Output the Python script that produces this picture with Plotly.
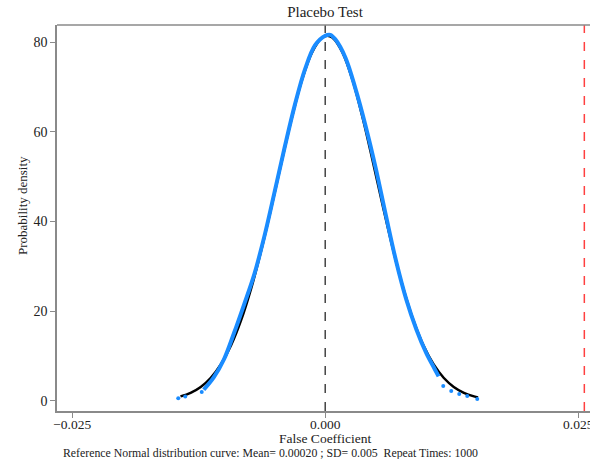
import plotly.graph_objects as go

# Reference normal curve
norm_x = [-0.0143, -0.0133, -0.0123, -0.0113, -0.0103, -0.0093, -0.0083, -0.0073,
          -0.0063, -0.0053, -0.0043, -0.0033, -0.0023, -0.0013, -0.0003, 0.0002,
          0.0007, 0.0017, 0.0027, 0.0037, 0.0047, 0.0057, 0.0067, 0.0077, 0.0087,
          0.0097, 0.0107, 0.0117, 0.0127, 0.0137, 0.0147, 0.0151]
norm_y = [1.02, 1.83, 3.14, 5.18, 8.20, 12.42, 18.07, 25.22, 33.77, 43.37, 53.40,
          63.08, 71.49, 77.69, 81.00, 81.42, 81.00, 77.69, 71.49, 63.08, 53.40,
          43.37, 33.77, 25.22, 18.07, 12.42, 8.20, 5.18, 3.14, 1.83, 1.02, 0.80]

# Kernel density of placebo coefficients
kd_x = [-0.0120, -0.0110, -0.0100, -0.0090, -0.0080, -0.0070, -0.0060, -0.0050,
        -0.0040, -0.0030, -0.0020, -0.0010, 0.0000, 0.0005, 0.0010, 0.0020,
        0.0030, 0.0040, 0.0050, 0.0060, 0.0070, 0.0080, 0.0090, 0.0100, 0.0108,
        0.0112]
kd_y = [2.5, 5.3, 9.3, 15.2, 21.6, 28.3, 36.8, 46.6, 56.6, 66.0, 73.9, 79.3, 81.4,
        81.6, 80.6, 76.5, 69.5, 61.2, 51.8, 41.3, 31.2, 22.7, 16.0, 10.6, 7.2, 5.5]

# Sparse tail points of the density
tail_x = [-0.01452, -0.01383, -0.0122, 0.01166, 0.01245, 0.01324, 0.01403, 0.01502]
tail_y = [0.6, 1.0, 2.0, 3.34, 2.23, 1.56, 1.11, 0.45]

true_coef = 0.0256
x_ticks = [-0.025, 0.0, 0.025]
y_ticks = [0, 20, 40, 60, 80]

font_family = "Liberation Serif"
W, H = 590, 459
L, R, T, B = 57, 0, 25, 48
PW, PH = W - L - R, H - T - B

fig = go.Figure()
fig.add_trace(go.Scatter(x=norm_x, y=norm_y, mode="lines",
                         line=dict(color="black", width=2.5, shape="spline"),
                         showlegend=False, hoverinfo="skip"))
fig.add_trace(go.Scatter(x=kd_x, y=kd_y, mode="lines",
                         line=dict(color="#1a8cff", width=4, shape="spline"),
                         showlegend=False))
fig.add_trace(go.Scatter(x=tail_x, y=tail_y, mode="markers",
                         marker=dict(color="#1a8cff", size=4),
                         showlegend=False))

fig.add_vline(x=0, line=dict(color="#444444", width=1.5, dash="dash"))
fig.add_vline(x=true_coef, line=dict(color="#ff4040", width=1.5, dash="dash"))
# top frame line
fig.add_shape(type="line", xref="paper", yref="paper", x0=0, x1=1, y0=1, y1=1,
              line=dict(color="#8a8a8a", width=1.5))

fig.update_layout(
    width=W, height=H,
    margin=dict(l=L, r=R, t=T, b=B),
    paper_bgcolor="white", plot_bgcolor="white",
    font=dict(family=font_family, color="#222222", size=14),
    title=dict(text="Placebo Test", x=325 / W, xanchor="center",
               y=1 - 12 / H, yanchor="middle",
               font=dict(family=font_family, size=15, color="#222222")),
    xaxis=dict(range=[-0.0265, 0.02616], tickvals=x_ticks, tickformat=".3f",
               showgrid=False, zeroline=False, showline=True, linecolor="#8a8a8a",
               linewidth=1.5, mirror=False, ticks="outside", ticklen=5,
               tickcolor="#8a8a8a", tickfont=dict(size=13.5), automargin=False,
               ticklabeloverflow="allow", ticklabelstandoff=-5),
    yaxis=dict(range=[-2.23, 83.8], tickvals=y_ticks, showgrid=False,
               zeroline=False, showline=True, linecolor="#8a8a8a", linewidth=1.5,
               mirror=False, ticks="outside", ticklen=5, tickcolor="#8a8a8a",
               tickfont=dict(size=14), automargin=False),
)

# x axis title
fig.add_annotation(text="False Coefficient", xref="paper", yref="paper",
                   x=(325 - L) / PW, y=-(438.5 - (T + PH)) / PH,
                   xanchor="center", yanchor="middle", showarrow=False,
                   font=dict(family=font_family, size=13.5, color="#222222"))
# y axis title
fig.add_annotation(text="Probability density", xref="paper", yref="paper",
                   x=-(L - 22) / PW, y=(T + PH - 206) / PH, textangle=-90,
                   xanchor="center", yanchor="middle", showarrow=False,
                   font=dict(family=font_family, size=13, color="#222222"))
# footnote
fig.add_annotation(
    text="Reference Normal distribution curve: Mean= 0.00020 ; SD= 0.005  Repeat Times: 1000",
    xref="paper", yref="paper", x=(61 - L) / PW, y=-(452.5 - (T + PH)) / PH,
    xanchor="left", yanchor="middle", showarrow=False,
    font=dict(family=font_family, size=11.8, color="#222222"))

fig.write_html("out.html", config={"displayModeBar": False},
               post_script="document.body.style.margin='0';document.body.style.overflow='hidden';")
